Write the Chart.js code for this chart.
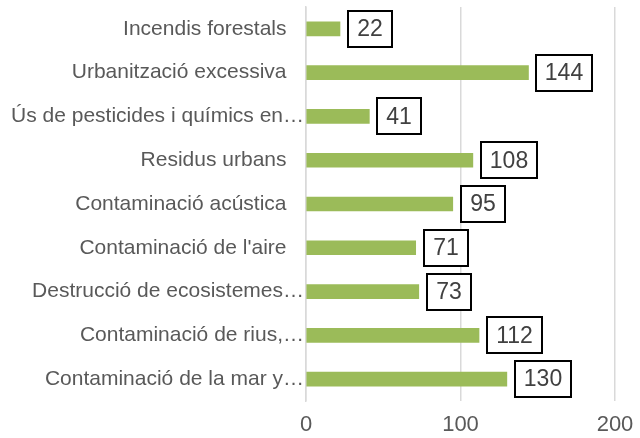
<!DOCTYPE html>
<html>
<head>
<meta charset="utf-8">
<script src="https://cdn.jsdelivr.net/npm/chart.js@4/dist/chart.umd.min.js"></script>
<style>
  html, body { margin: 0; padding: 0; background: #fff; }
  #wrap { width: 640px; height: 438px; position: relative; }
</style>
</head>
<body>
<div id="wrap"><canvas id="chart"></canvas></div>
<script>
// categories as shown (already truncated in the original)
const categories = [
  "Incendis forestals",
  "Urbanització excessiva",
  "Ús de pesticides i químics en…",
  "Residus urbans",
  "Contaminació acústica",
  "Contaminació de l'aire",
  "Destrucció de ecosistemes…",
  "Contaminació de rius,…",
  "Contaminació de la mar y…"
];
const counts = [22, 144, 41, 108, 95, 71, 73, 112, 130];
const xTicks = [0, 100, 200];

const FONT = '"Liberation Sans", Arial, sans-serif';

// draws the boxed value labels next to each bar
const boxLabels = {
  id: 'boxLabels',
  afterDatasetsDraw(chart) {
    const ctx = chart.ctx;
    const meta = chart.getDatasetMeta(0);
    ctx.save();
    ctx.font = '23px ' + FONT;
    ctx.textAlign = 'center';
    ctx.textBaseline = 'middle';
    meta.data.forEach((bar, i) => {
      const txt = String(counts[i]);
      const w = Math.round(ctx.measureText(txt).width + 18);
      const h = 36;
      const x0 = Math.round(bar.x + 8);
      const y0 = Math.round(bar.y - h / 2);
      ctx.fillStyle = '#fff';
      ctx.fillRect(x0, y0, w, h);
      ctx.strokeStyle = '#000';
      ctx.lineWidth = 2;
      ctx.strokeRect(x0, y0, w, h);
      ctx.fillStyle = '#404040';
      ctx.fillText(txt, x0 + w / 2, bar.y + 1);
    });
    ctx.restore();
  }
};

new Chart(document.getElementById('chart'), {
  type: 'bar',
  data: {
    labels: categories,
    datasets: [{
      data: counts,
      backgroundColor: '#9BBB59',
      barThickness: 14
    }]
  },
  options: {
    indexAxis: 'y',
    responsive: true,
    maintainAspectRatio: false,
    animation: false,
    layout: { padding: { top: 7, right: 0, bottom: 0, left: 0 } },
    plugins: { legend: { display: false }, tooltip: { enabled: false } },
    scales: {
      x: {
        type: 'linear',
        min: 0,
        max: 200,
        afterBuildTicks: (s) => { s.ticks = xTicks.map(v => ({ value: v })); },
        afterFit: (s) => {
          s.height = 37;
          s.paddingRight = 25;
        },
        grid: { color: '#d9d9d9', lineWidth: 1.5, drawTicks: false },
        border: { display: false },
        ticks: {
          padding: 11,
          color: '#595959',
          font: { family: FONT, size: 22 }
        }
      },
      y: {
        afterFit: (s) => {
          s.width = 306;
          s.paddingTop = 0;
          s.paddingBottom = 0;
        },
        grid: { display: false, drawTicks: false },
        border: { display: true, color: '#d9d9d9', width: 1.5 },
        ticks: {
          padding: 2,
          color: '#595959',
          font: { family: FONT, size: 21 },
          // full labels sit a little off the axis, truncated ones run up to it
          callback: function (v) {
            const t = this.getLabelForValue(v);
            return t.endsWith('…') ? t : t + '   ';
          }
        }
      }
    }
  },
  plugins: [boxLabels]
});
</script>
</body>
</html>
